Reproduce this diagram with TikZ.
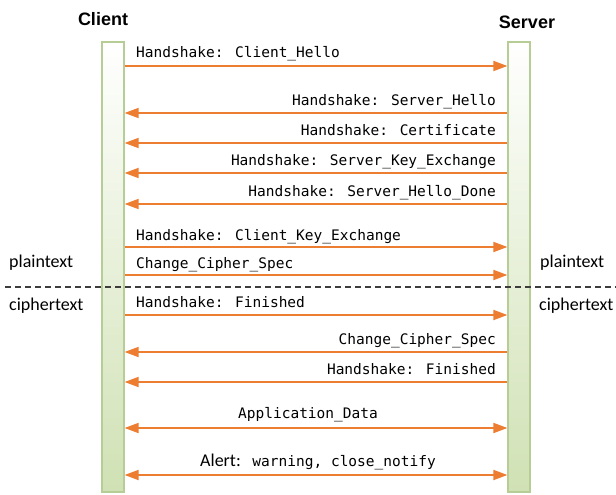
\documentclass[tikz,border=0pt]{standalone}
\usepackage{fontspec}
\setmainfont{Carlito}
\newfontfamily\headfont{Liberation Sans}
\newfontfamily\monofont{DejaVu Sans Mono}
\usetikzlibrary{arrows.meta}
\definecolor{msgorange}{RGB}{237,125,49}
\definecolor{barfill}{RGB}{208,225,180}
\definecolor{barline}{RGB}{182,206,150}
\definecolor{sepgray}{RGB}{60,60,60}
\tikzset{
  x=1pt, y=-1pt,
  lifebar/.style={draw=barline, line width=1.2pt, top color=white, bottom color=barfill,
    minimum width=22pt, minimum height=450pt, inner sep=0pt},
  header/.style={font=\headfont\bfseries\fontsize{18}{20}\selectfont, anchor=base},
  msg/.style={draw=msgorange, line width=1.8pt, -{Triangle[length=14pt,width=10pt]}},
  bimsg/.style={draw=msgorange, line width=1.8pt, {Triangle[length=14pt,width=10pt]}-{Triangle[length=14pt,width=10pt]}},
  lbl/.style={font=\monofont\fontsize{14.5}{16}\selectfont, inner sep=0pt},
  side/.style={font=\fontsize{18}{20}\selectfont, inner sep=0pt, anchor=base west},
  sep/.style={draw=sepgray, line width=1.1pt, dash pattern=on 6pt off 4pt}
}
\begin{document}
\begin{tikzpicture}
\useasboundingbox (0,0) rectangle (616,495);
% lifelines
\node[lifebar] (cb) at (113,267) {};
\node[lifebar] (sb) at (519,267) {};
\node[header] (ch) at (103,26) {Client};
\node[header] (sh) at (527,29) {Server};
% message rows
\foreach \n/\y in {m1/66,m2/113,m3/143,m4/173,m5/204,m6/247,m7/275,m8/315,m9/352,m10/382,m11/428,m12/475}{
  \coordinate (\n c) at (cb.east |- 0,\y);
  \coordinate (\n s) at (sb.west |- 0,\y);
}
\draw[msg] (m1c) -- (m1s);
\draw[msg] (m2s) -- (m2c);
\draw[msg] (m3s) -- (m3c);
\draw[msg] (m4s) -- (m4c);
\draw[msg] (m5s) -- (m5c);
\draw[msg] (m6c) -- (m6s);
\draw[msg] (m7c) -- (m7s);
\draw[msg] (m8c) -- (m8s);
\draw[msg] (m9s) -- (m9c);
\draw[msg] (m10s) -- (m10c);
\draw[bimsg] (m11c) -- (m11s);
\draw[bimsg] (m12c) -- (m12s);
% labels
\node[lbl, anchor=base west] (l1) at (136,58) {Handshake: Client\_Hello};
\node[lbl, anchor=base east] (l2) at (496,105) {Handshake: Server\_Hello};
\node[lbl, anchor=base east] (l3) at (496,135) {Handshake: Certificate};
\node[lbl, anchor=base east] (l4) at (496,165) {Handshake: Server\_Key\_Exchange};
\node[lbl, anchor=base east] (l5) at (496,196) {Handshake: Server\_Hello\_Done};
\node[lbl, anchor=base west] (l6) at (136,240) {Handshake: Client\_Key\_Exchange};
\node[lbl, anchor=base west] (l7) at (136,268) {Change\_Cipher\_Spec};
\node[lbl, anchor=base west] (l8) at (136,307) {Handshake: Finished};
\node[lbl, anchor=base east] (l9) at (496,344) {Change\_Cipher\_Spec};
\node[lbl, anchor=base east] (l10) at (496,374) {Handshake: Finished};
\node[lbl, anchor=base] (l11) at (308,418) {Application\_Data};
\node[lbl, anchor=base] (l12) at (318,466) {{\rmfamily\fontsize{18}{20}\selectfont Alert:} warning, close\_notify};
% plaintext / ciphertext
\draw[sep] (5,287) coordinate (d1) -- (616,287) coordinate (d2);
\node[side] (pl) at (9,267) {plaintext};
\node[side] (pr) at (540,267) {plaintext};
\node[side] (cl) at (9,310) {ciphertext};
\node[side] (cr) at (539,310) {ciphertext};
\end{tikzpicture}
\end{document}
